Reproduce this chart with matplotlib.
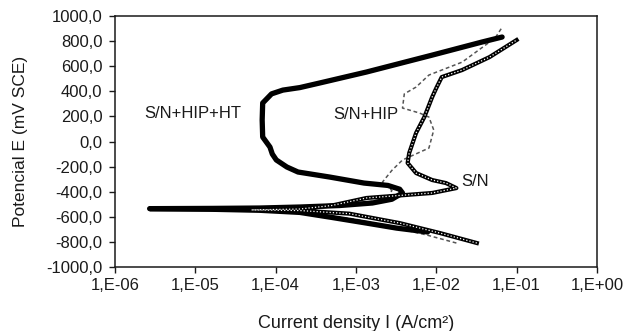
import matplotlib.pyplot as plt
from matplotlib.ticker import FixedLocator, FuncFormatter

plt.rcParams["font.family"] = ["Liberation Sans", "DejaVu Sans"]

# S/N+HIP+HT : cathodic end -> corrosion tip -> anodic end
ht_current = [7.8e-3, 3.2e-3, 1.35e-3, 5.0e-4, 2.0e-4, 6.3e-5, 1.6e-5, 2.7e-6,
              1.6e-5, 6.3e-5, 2.0e-4, 6.3e-4, 1.6e-3, 2.8e-3, 3.8e-3, 3.5e-3,
              2.5e-3, 1.26e-3, 4.7e-4, 1.9e-4, 1.38e-4, 1.02e-4, 9.1e-5,
              8.5e-5, 6.9e-5, 6.8e-5, 6.9e-5, 8.9e-5, 1.23e-4, 2.0e-4,
              3.5e-4, 1.35e-3, 8.9e-3, 3.7e-2, 6.6e-2]
ht_potential = [-721, -690, -650, -605, -565, -548, -540, -535,
                -533, -530, -522, -510, -490, -460, -410, -380,
                -350, -331, -283, -243, -203, -147, -100,
                -44, 36, 171, 307, 380, 410, 430,
                466, 554, 689, 793, 833]

# S/N
sn_current = [3.2e-2, 1.12e-2, 3.5e-3, 8.3e-4, 2.0e-4, 5.0e-5,
              2.0e-4, 5.0e-4, 1.35e-3, 8.9e-3, 1.78e-2, 1.32e-2,
              8.9e-3, 5.6e-3, 4.4e-3, 4.6e-3, 5.6e-3, 7.1e-3, 8.9e-3,
              1.0e-2, 1.17e-2, 2.1e-2, 4.6e-2, 1.0e-1]
sn_potential = [-809, -730, -650, -575, -550, -545,
                -538, -510, -450, -410, -371, -331,
                -307, -251, -171, -92, 68, 195, 355,
                426, 514, 570, 673, 809]

# S/N+HIP
hip_current = [1.78e-2, 7.6e-3, 3.2e-3, 1.0e-3, 2.0e-4, 4.0e-5,
               2.0e-4, 1.0e-3, 2.5e-3, 2.8e-3, 2.14e-3, 2.8e-3,
               3.8e-3, 8.1e-3, 9.3e-3, 8.1e-3, 6.2e-3, 3.8e-3, 4.0e-3,
               5.6e-3, 8.1e-3, 2.1e-2, 5.4e-2, 6.5e-2]
hip_potential = [-809, -745, -690, -620, -560, -540,
                 -530, -500, -450, -390, -323, -230,
                 -147, -52, 92, 195, 227, 267, 380,
                 434, 530, 633, 825, 904]

x_ticks = [1e-6, 1e-5, 1e-4, 1e-3, 1e-2, 1e-1, 1e0]
x_tick_labels = ["1,E-06", "1,E-05", "1,E-04", "1,E-03", "1,E-02", "1,E-01", "1,E+00"]
y_ticks = list(range(-1000, 1001, 200))

fig = plt.figure(figsize=(6.3, 3.31), dpi=100)
ax = fig.add_axes([0.1825, 0.1934, 0.765, 0.758])

ax.plot(hip_current, hip_potential, color="#555555", lw=1.1,
        linestyle=(0, (2.5, 1.8)), zorder=2)
ax.plot(ht_current, ht_potential, color="black", lw=3.8,
        solid_joinstyle="round", solid_capstyle="round", zorder=3)
ax.plot(sn_current, sn_potential, color="black", lw=3.0,
        solid_joinstyle="round", zorder=4)
ax.plot(sn_current, sn_potential, color="white", lw=0.9,
        linestyle=(0, (1, 1.6)), zorder=5)

ax.set_xscale("log")
ax.set_xlim(1e-6, 1e0)
ax.set_ylim(-1000, 1000)
ax.xaxis.set_major_locator(FixedLocator(x_ticks))
ax.xaxis.set_minor_locator(FixedLocator([]))
ax.set_xticklabels(x_tick_labels)
ax.set_yticks(y_ticks)
ax.yaxis.set_major_formatter(FuncFormatter(lambda v, p: f"{v:.1f}".replace(".", ",")))

ax.tick_params(axis="both", direction="out", length=4, width=1,
               labelsize=12, colors="#1a1a1a")
ax.tick_params(axis="y", pad=5)
ax.tick_params(axis="x", pad=4)
for spine in ax.spines.values():
    spine.set_linewidth(1.1)
    spine.set_color("#1a1a1a")

ax.text(9.3e-6, 227, "S/N+HIP+HT", fontsize=12, ha="center", va="center", color="#1a1a1a")
ax.text(1.32e-3, 219, "S/N+HIP", fontsize=12, ha="center", va="center", color="#1a1a1a")
ax.text(3.0e-2, -315, "S/N", fontsize=12, ha="center", va="center", color="#1a1a1a")

ax.set_xlabel("Current density I (A/cm²)", fontsize=13, color="#1a1a1a", labelpad=16)
ax.set_ylabel("Potencial E (mV SCE)", fontsize=12.5, color="#1a1a1a", labelpad=13)

fig.savefig("out.png", dpi=100)
